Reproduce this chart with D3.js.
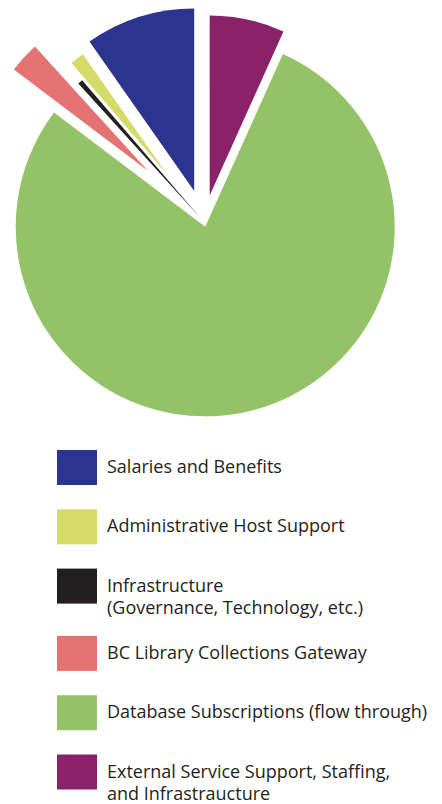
<!DOCTYPE html>
<html>
<head>
<meta charset="utf-8">
<script src="https://cdn.jsdelivr.net/npm/d3@7"></script>
<style>
    body { margin: 0; background: #fff; }
    svg { display: block; }
</style>
</head>
<body>
<div id="my_dataviz"></div>
<script>
//Data
var labels = [
    ["Salaries and Benefits"],
    ["Administrative Host Support"],
    ["Infrastructure", "(Governance, Technology, etc.)"],
    ["BC Library Collections Gateway"],
    ["Database Subscriptions (flow through)"],
    ["External Service Support, Staffing,", "and Infrastraucture"]
];
var values = [9.7, 1.55, 0.45, 2.95, 78.3, 6.7];

//Style
var colors = ["#2b3590", "#d4db66", "#231f20", "#e57373", "#94c367", "#8b2269"];
var radii = [182.5, 147, 181, 168, 189.5, 180];
var explode = [32.5, 60, 6, 76, 5, 27];

var width = 442, height = 804;
var cx = 204, cy = 222;

var svg = d3.select("#my_dataviz")
    .append("svg")
    .attr("width", width)
    .attr("height", height);

//Pie, drawn counter-clockwise from the top so the legend order follows the slices
var pie = d3.pie()
    .sort(null)
    .startAngle(2 * Math.PI)
    .endAngle(0)
    .value(function (d) { return d; });

var arcs = pie(values);

var pieG = svg.append("g")
    .attr("transform", "translate(" + cx + "," + cy + ")");

pieG.selectAll("slice")
    .data(arcs)
    .enter()
    .append("path")
    .attr("transform", function (d, i) {
        var a = (d.startAngle + d.endAngle) / 2;
        var dx = Math.sin(a) * explode[i];
        var dy = -Math.cos(a) * explode[i];
        return "translate(" + dx + "," + dy + ")";
    })
    .attr("d", function (d, i) {
        return d3.arc().innerRadius(0).outerRadius(radii[i])(d);
    })
    .style("fill", function (d, i) { return colors[i]; });

//Legend
var legTop = 450, legStep = 59.3, extraLine = 8, lineH = 22;
function rowTop(i) {
    var extra = 0;
    for (var k = 0; k < i; k++) extra += (labels[k].length - 1) * extraLine;
    return legTop + i * legStep + extra;
}

var leg = svg.append("g").attr("class", "legend");

leg.selectAll("swatch")
    .data(labels)
    .enter()
    .append("rect")
    .attr("x", 57)
    .attr("y", function (d, i) { return rowTop(i); })
    .attr("width", 40)
    .attr("height", 35)
    .style("fill", function (d, i) { return colors[i]; });

leg.selectAll("mylabels")
    .data(labels)
    .enter()
    .append("text")
    .attr("x", 107)
    .attr("y", function (d, i) { return rowTop(i) + 23; })
    .style("font-family", "'Open Sans', sans-serif")
    .style("font-size", "18px")
    .style("fill", "#231f20")
    .each(function (d) {
        var t = d3.select(this);
        d.forEach(function (line, j) {
            t.append("tspan")
                .attr("x", 107)
                .attr("dy", j == 0 ? 0 : lineH)
                .text(line);
        });
    });
</script>
</body>
</html>
